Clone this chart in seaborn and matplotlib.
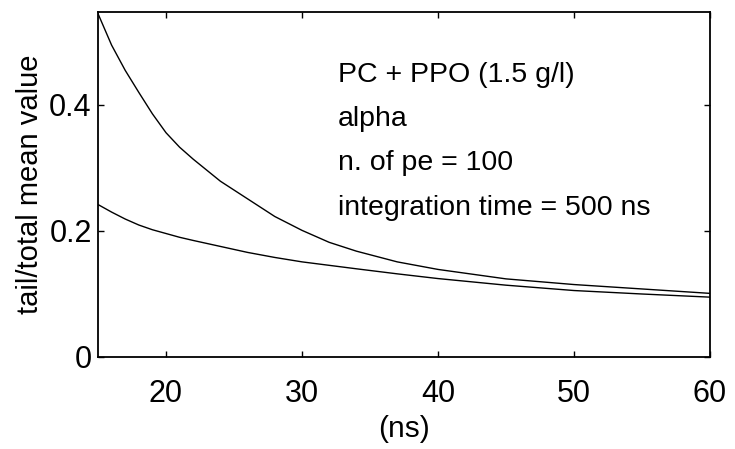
import matplotlib
matplotlib.use("Agg")
import matplotlib.pyplot as plt
import seaborn as sns
import pandas as pd

# data
time_ns = [15, 16, 17, 18, 19, 20, 21, 22, 24, 26, 28, 30, 32, 34, 37, 40, 45, 50, 55, 60]
upper_curve = [0.545, 0.495, 0.455, 0.420, 0.386, 0.356, 0.333, 0.314, 0.279, 0.251,
               0.223, 0.201, 0.182, 0.168, 0.151, 0.139, 0.124, 0.115, 0.108, 0.101]
lower_curve = [0.242, 0.230, 0.219, 0.2095, 0.202, 0.196, 0.190, 0.185, 0.1755, 0.166,
               0.158, 0.151, 0.1455, 0.140, 0.132, 0.1245, 0.114, 0.1055, 0.100, 0.095]
x_ticks = [20, 30, 40, 50, 60]
y_ticks = [0, 0.2, 0.4]
y_tick_labels = ["0", "0.2", "0.4"]
annotation_lines = ["PC + PPO (1.5 g/l)", "alpha", "n. of pe = 100", "integration time = 500 ns"]

sns.set_theme(style="ticks")
plt.rcParams["font.family"] = ["Liberation Sans", "DejaVu Sans"]

df = pd.DataFrame({
    "t": time_ns * 2,
    "v": upper_curve + lower_curve,
    "series": ["upper"] * len(time_ns) + ["lower"] * len(time_ns),
})

fig = plt.figure(figsize=(7.35, 4.49), dpi=100)
ax = fig.add_axes([98 / 735, 92 / 449, (710 - 98) / 735, (357 - 12) / 449])

sns.lineplot(data=df, x="t", y="v", hue="series", palette={"upper": "black", "lower": "black"},
             linewidth=1.0, legend=False, ax=ax)

ax.set_xlim(15, 60)
ax.set_ylim(0, 0.5476)
ax.set_xticks(x_ticks)
ax.set_yticks(y_ticks)
ax.set_yticklabels(y_tick_labels)
ax.tick_params(direction="in", length=4.5, width=1.0, top=True, right=True,
               labelsize=22, colors="black")
ax.tick_params(axis="x", pad=16)
ax.tick_params(axis="y", pad=4.5)
for s in ax.spines.values():
    s.set_linewidth(1.3)
    s.set_color("black")

ax.set_xlabel("(ns)", fontsize=21.5, color="black", labelpad=4)
ax.set_ylabel("tail/total mean value", fontsize=21, color="black", labelpad=3.5)

ax.text(0.392, 0.856, "\n".join(annotation_lines), transform=ax.transAxes,
        fontsize=20.5, linespacing=1.92, va="top", ha="left", color="black")

fig.savefig("out.png", dpi=100)
